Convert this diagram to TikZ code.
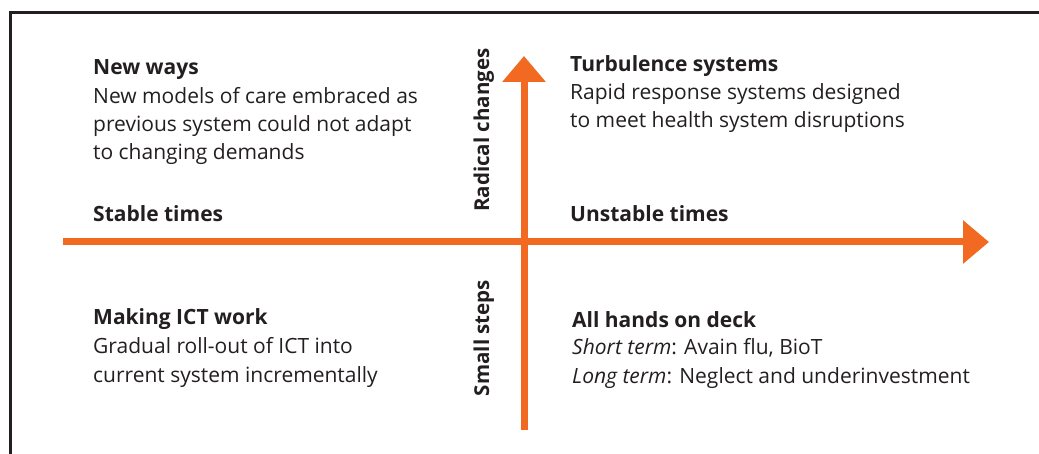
\documentclass[tikz,border=0pt]{standalone}
\usepackage{fontspec}
\setmainfont{Open Sans}
\usetikzlibrary{arrows.meta}
\definecolor{axisorange}{HTML}{F26A21}
\definecolor{framegray}{HTML}{231F20}
\definecolor{txt}{HTML}{231F20}
\tikzset{
  lbl/.style={anchor=base west,inner sep=0pt,text=txt,font=\fontsize{21}{25}\selectfont},
  ttl/.style={lbl,font=\fontsize{21}{25}\selectfont\bfseries},
  vlbl/.style={inner sep=0pt,text=txt,font=\fontsize{20.5}{25}\selectfont\bfseries,rotate=90,anchor=base},
  axis/.style={draw=axisorange,line width=7pt,-{Triangle[length=26pt,width=42pt]}},
  frame/.style={draw=framegray,line width=3pt}
}
\begin{document}
\begin{tikzpicture}[x=1pt,y=-1pt]
\useasboundingbox (0,0) rectangle (1039,454);
% frame
\coordinate (fbl) at (10,460);
\coordinate (ftl) at (10,13);
\coordinate (ftr) at (1045,13);
\draw[frame] (fbl) -- (ftl) -- (ftr);
% axes
\coordinate (hstart) at (63,242);
\coordinate (hend) at (989,242);
\coordinate (vstart) at (524,430);
\coordinate (vend) at (524,56);
\draw[axis] (hstart) -- (hend);
\draw[axis] (vstart) -- (vend);
% axis labels
\node[vlbl] (radical) at (489,130) {Radical changes};
\node[vlbl] (small) at (489,338) {Small steps};
\node[ttl] (stable) at (93,222) {Stable times};
\node[ttl] (unstable) at (570,222) {Unstable times};
% top left
\node[ttl] (nw0) at (93,75) {New ways};
\node[lbl] (nw1) at (93,104) {New models of care embraced as};
\node[lbl] (nw2) at (93,132) {previous system could not adapt};
\node[lbl] (nw3) at (93,160) {to changing demands};
% top right
\node[ttl] (ts0) at (570,72) {Turbulence systems};
\node[lbl] (ts1) at (570,100) {Rapid response systems designed};
\node[lbl] (ts2) at (570,128) {to meet health system disruptions};
% bottom left
\node[ttl] (ict0) at (93,325) {Making ICT work};
\node[lbl] (ict1) at (93,353) {Gradual roll-out of ICT into};
\node[lbl] (ict2) at (93,382) {current system incrementally};
% bottom right
\node[ttl] (ah0) at (572,327) {All hands on deck};
\node[lbl] (ah1) at (572,355) {\textit{Short term}: Avain flu, BioT};
\node[lbl] (ah2) at (572,383) {\textit{Long term}: Neglect and underinvestment};
\end{tikzpicture}
\end{document}
